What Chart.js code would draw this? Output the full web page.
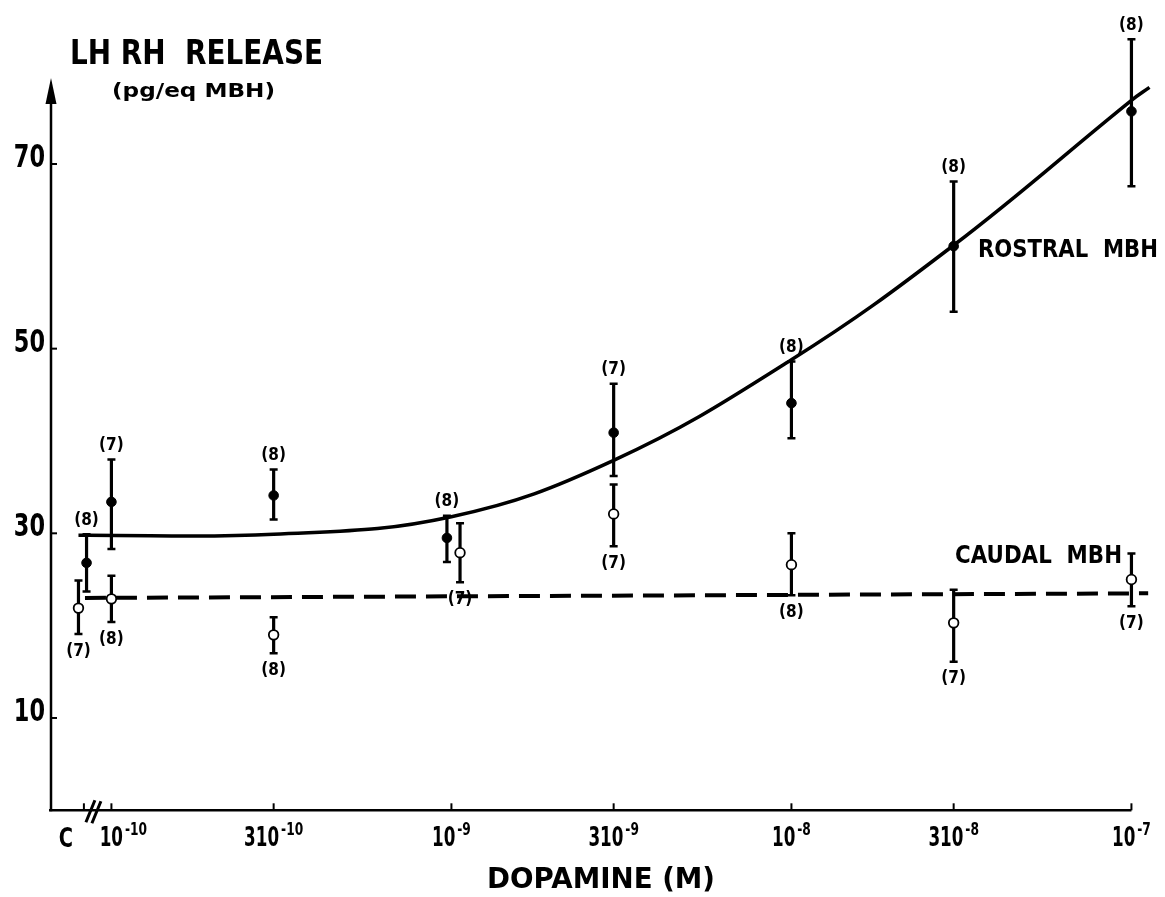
<!DOCTYPE html>
<html>
<head>
<meta charset="utf-8">
<script src="https://cdn.jsdelivr.net/npm/chart.js@4"></script>
<style>html,body{margin:0;padding:0;background:#fff}canvas{display:block}</style>
</head>
<body>
<canvas id="c" width="1165" height="897"></canvas>
<script>
// ---- data ----
const xTickValues   = [1e-10, 3e-10, 1e-9, 3e-9, 1e-8, 3e-8, 1e-7];
const xTickMantissa = ['10', '310', '10', '310', '10', '310', '10'];
const xTickExponent = ['-10', '-10', '-9', '-9', '-8', '-8', '-7'];
const controlTick   = 8.3e-11;          // "C" (control) position on the axis
const yTickValues   = [10, 30, 50, 70];

// Rostral MBH (filled circles)
const rostralX  = [8.45e-11, 1e-10, 3e-10, 9.7e-10, 3e-9, 1e-8, 3e-8, 1e-7];
const rostralY  = [26.8, 33.4, 34.1, 29.5, 40.9, 44.1, 61.1, 75.7];
const rostralHi = [29.9, 38.0, 36.9, 31.9, 46.2, 48.6, 68.1, 83.5];
const rostralLo = [23.7, 28.3, 31.5, 26.9, 36.2, 40.3, 54.0, 67.6];
const rostralN  = ['(8)', '(7)', '(8)', '(8)', '(7)', '(8)', '(8)', '(8)'];

// Caudal MBH (open circles)
const caudalX  = [8.0e-11, 1e-10, 3e-10, 1.06e-9, 3e-9, 1e-8, 3e-8, 1e-7];
const caudalY  = [21.9, 22.9, 19.0, 27.9, 32.1, 26.6, 20.3, 25.0];
const caudalHi = [24.9, 25.4, 20.9, 31.1, 35.3, 30.0, 23.9, 27.8];
const caudalLo = [19.1, 20.4, 17.0, 24.7, 28.6, 23.3, 16.1, 22.1];
const caudalN  = ['(7)', '(8)', '(8)', '(7)', '(7)', '(8)', '(7)', '(7)'];

// fitted curves
const rostralFitX = [8.0e-11, 3e-10, 1e-9, 3e-9, 1e-8, 3e-8, 1e-7, 1.13e-7];
const rostralFitY = [29.8, 29.9, 31.8, 37.9, 48.8, 61.2, 76.9, 78.3];
const caudalFitX  = [8.36e-11, 1.12e-7];
const caudalFitY  = [23.0, 23.5];

// ---- helpers ----
const FONT = '"DejaVu Sans", "Liberation Sans", sans-serif';
function txt(ctx, s, x, y, size, sx, align, baseline, targetW) {
  ctx.save();
  ctx.font = 'bold ' + size + 'px ' + FONT;
  ctx.textBaseline = baseline || 'alphabetic';
  ctx.textAlign = 'left';
  const nat = ctx.measureText(s).width;
  if (targetW) sx = targetW / nat;
  const w = nat * sx;
  const x0 = align === 'center' ? x - w / 2 : (align === 'right' ? x - w : x);
  ctx.translate(x0, y);
  ctx.scale(sx, 1);
  ctx.fillStyle = '#000';
  ctx.fillText(s, 0, 0);
  ctx.restore();
  return w;
}
function measure(ctx, s, size, sx) {
  ctx.save();
  ctx.font = 'bold ' + size + 'px ' + FONT;
  const w = ctx.measureText(s).width * sx;
  ctx.restore();
  return w;
}

const pts = (xs, ys) => xs.map((x, i) => ({x: x, y: ys[i]}));

const errorBars = {
  id: 'errorBars',
  beforeDatasetsDraw(chart) {
    const ctx = chart.ctx, xs = chart.scales.x, ys = chart.scales.y;
    ctx.save();
    ctx.strokeStyle = '#000';
    ctx.lineCap = 'butt';
    const draw = (X, Hi, Lo) => {
      X.forEach((xv, i) => {
        const px = xs.getPixelForValue(xv);
        const t = ys.getPixelForValue(Hi[i]);
        const b = ys.getPixelForValue(Lo[i]);
        ctx.lineWidth = 3.2;
        ctx.beginPath(); ctx.moveTo(px, t); ctx.lineTo(px, b); ctx.stroke();
        ctx.lineWidth = 2.5;
        ctx.beginPath();
        ctx.moveTo(px - 4, t); ctx.lineTo(px + 4, t);
        ctx.moveTo(px - 4, b); ctx.lineTo(px + 4, b);
        ctx.stroke();
      });
    };
    draw(rostralX, rostralHi, rostralLo);
    draw(caudalX, caudalHi, caudalLo);
    ctx.restore();
  }
};

const decor = {
  id: 'decor',
  afterDraw(chart) {
    const ctx = chart.ctx, xs = chart.scales.x, ys = chart.scales.y;
    const left = chart.chartArea.left;
    const y0 = ys.getPixelForValue(0);
    const xEnd = xs.getPixelForValue(xTickValues[xTickValues.length - 1]);
    ctx.save();
    ctx.strokeStyle = '#000';
    ctx.fillStyle = '#000';
    // y axis with arrow
    ctx.lineWidth = 2.5;
    ctx.beginPath(); ctx.moveTo(left, y0 + 1); ctx.lineTo(left, 100); ctx.stroke();
    ctx.beginPath();
    ctx.moveTo(left, 78); ctx.lineTo(left - 5.5, 104); ctx.lineTo(left + 5.5, 104); ctx.closePath(); ctx.fill();
    // x axis
    ctx.beginPath(); ctx.moveTo(left - 2, y0); ctx.lineTo(xEnd, y0); ctx.stroke();
    // y ticks + labels
    yTickValues.forEach(v => {
      const py = ys.getPixelForValue(v);
      ctx.lineWidth = 2;
      ctx.beginPath(); ctx.moveTo(left, py); ctx.lineTo(left + 6, py); ctx.stroke();
      txt(ctx, String(v), 45, py + 3, 32, 0.7, 'right', 'alphabetic');
    });
    // x ticks
    const tickAt = (v) => {
      const px = xs.getPixelForValue(v);
      ctx.lineWidth = 2;
      ctx.beginPath(); ctx.moveTo(px, y0); ctx.lineTo(px, y0 - 7); ctx.stroke();
      return px;
    };
    const cpx = tickAt(controlTick);
    txt(ctx, 'C', cpx - 18, 847, 27, 0.72, 'center', 'alphabetic');
    // axis break marks
    ctx.lineWidth = 3;
    ctx.beginPath();
    ctx.moveTo(cpx + 2, y0 + 12); ctx.lineTo(cpx + 11, y0 - 10);
    ctx.moveTo(cpx + 8, y0 + 13); ctx.lineTo(cpx + 17, y0 - 9);
    ctx.stroke();
    xTickValues.forEach((v, i) => {
      const px = tickAt(v);
      const mW = measure(ctx, xTickMantissa[i], 27, 0.62);
      const eW = measure(ctx, xTickExponent[i], 17, 0.72);
      const gap = 2;
      const shift = i === 0 ? 12 : 0;
      const start = px + shift - (mW + gap + eW) / 2;
      txt(ctx, xTickMantissa[i], start, 846, 27, 0.62, 'left', 'alphabetic');
      txt(ctx, xTickExponent[i], start + mW + gap, 835, 17, 0.72, 'left', 'alphabetic');
    });
    // n labels
    rostralX.forEach((xv, i) => {
      const px = xs.getPixelForValue(xv);
      const t = ys.getPixelForValue(rostralHi[i]);
      txt(ctx, rostralN[i], px, t - 14, 18, 0.85, 'center', 'middle');
    });
    caudalX.forEach((xv, i) => {
      const px = xs.getPixelForValue(xv);
      const b = ys.getPixelForValue(caudalLo[i]);
      txt(ctx, caudalN[i], px, b + 17, 18, 0.85, 'center', 'middle');
    });
    // titles and series labels
    txt(ctx, 'LH RH  RELEASE', 70, 64, 33, 1, 'left', 'alphabetic', 253);
    txt(ctx, '(pg/eq MBH)', 112, 97, 20, 1, 'left', 'alphabetic', 163);
    txt(ctx, 'DOPAMINE (M)', 487, 888, 28, 1, 'left', 'alphabetic', 228);
    txt(ctx, 'ROSTRAL  MBH', 978, 257, 24, 1, 'left', 'alphabetic', 180);
    txt(ctx, 'CAUDAL  MBH', 955, 563, 24, 1, 'left', 'alphabetic', 167);
    ctx.restore();
  }
};

new Chart(document.getElementById('c'), {
  type: 'scatter',
  data: {
    datasets: [
      { label: 'Rostral MBH', data: pts(rostralX, rostralY), showLine: false,
        pointRadius: 4.8, pointBackgroundColor: '#000', pointBorderColor: '#000', pointBorderWidth: 1 },
      { label: 'Caudal MBH', data: pts(caudalX, caudalY), showLine: false,
        pointRadius: 4.8, pointBackgroundColor: '#fff', pointBorderColor: '#000', pointBorderWidth: 1.8 },
      { label: 'Rostral fit', type: 'line', data: pts(rostralFitX, rostralFitY),
        borderColor: '#000', borderWidth: 3.5, pointRadius: 0, fill: false, tension: 0.4 },
      { label: 'Caudal fit', type: 'line', data: pts(caudalFitX, caudalFitY),
        borderColor: '#000', borderWidth: 4, borderDash: [21, 10], pointRadius: 0, fill: false }
    ]
  },
  options: {
    responsive: false,
    animation: false,
    layout: { padding: { left: 51, right: 5, top: 25.5, bottom: 86.7 } },
    plugins: { legend: { display: false }, tooltip: { enabled: false } },
    scales: {
      x: { type: 'logarithmic', min: Math.pow(10, -10.1777), max: Math.pow(10, -6.9207), display: false },
      y: { type: 'linear', min: 0, max: 85, display: false }
    }
  },
  plugins: [errorBars, decor]
});
</script>
</body>
</html>
